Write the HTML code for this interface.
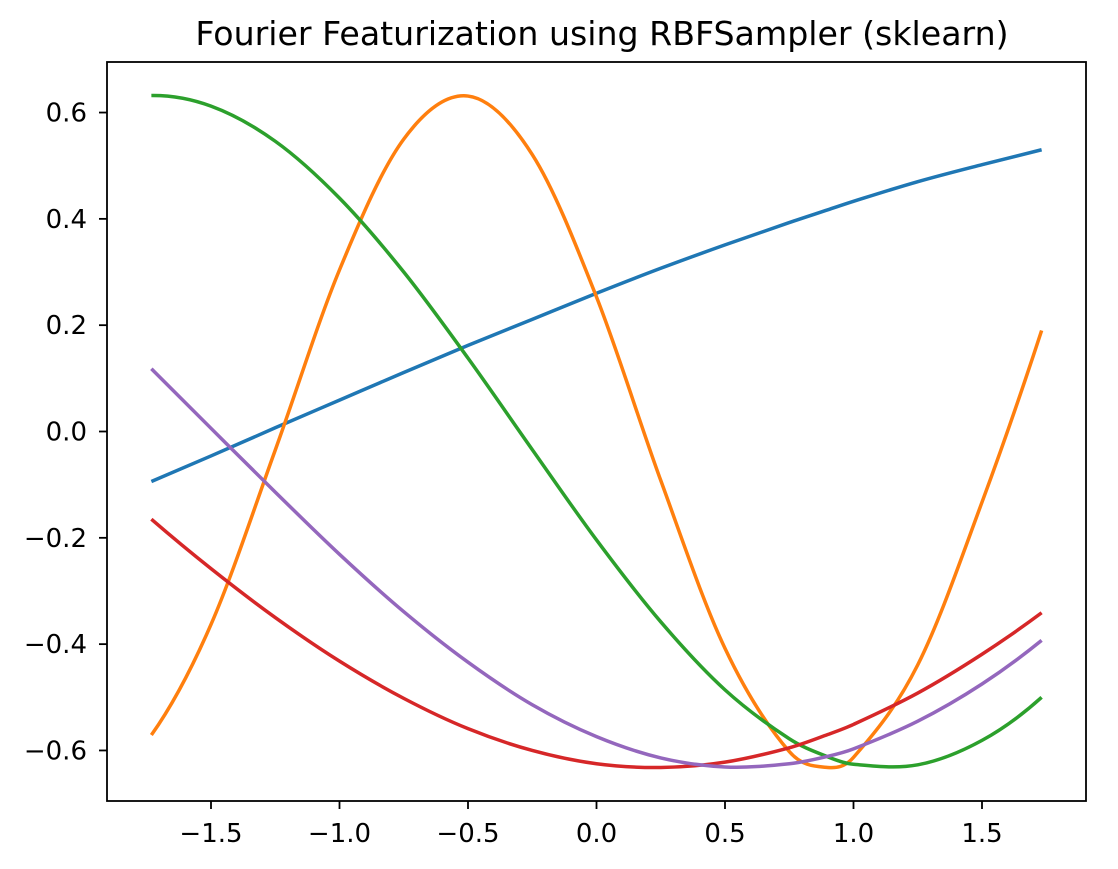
<!DOCTYPE html>
<html><head><meta charset="utf-8"><style>
body{margin:0;background:#fff;}
svg{display:block;font-family:"DejaVu Sans","Liberation Sans",sans-serif;}
</style></head><body>
<svg id="chart" width="1118" height="869">
<rect width="1118" height="869" fill="#fff"/>
<text x="602" y="45" text-anchor="middle" font-size="33.2" fill="#000">Fourier Featurization using RBFSampler (sklearn)</text>
<g id="lines"></g>
<g id="axes"></g>
<rect x="107" y="62" width="979" height="739" fill="none" stroke="#000" stroke-width="1.8"/>
</svg>
<script>
const xs = [-1.732,-1.5,-1.25,-1,-0.75,-0.5,-0.25,0,0.25,0.5,0.75,0.9,1,1.25,1.5,1.732];
const blue   = [-0.094,-0.046,0.007,0.059,0.111,0.162,0.211,0.260,0.307,0.351,0.393,0.417,0.433,0.470,0.502,0.530];
const orange = [-0.571,-0.363,-0.035,0.304,0.550,0.631,0.521,0.253,-0.092,-0.408,-0.602,-0.632,-0.613,-0.439,-0.133,0.190];
const green  = [0.632,0.612,0.546,0.439,0.300,0.138,-0.034,-0.204,-0.358,-0.486,-0.578,-0.612,-0.626,-0.627,-0.581,-0.500];
const red    = [-0.165,-0.258,-0.350,-0.432,-0.502,-0.559,-0.600,-0.625,-0.632,-0.622,-0.595,-0.570,-0.551,-0.492,-0.419,-0.341];
const purple = [0.118,0.006,-0.114,-0.231,-0.339,-0.434,-0.514,-0.574,-0.614,-0.631,-0.625,-0.611,-0.597,-0.545,-0.475,-0.393];
const xTicks = [-1.5,-1.0,-0.5,0.0,0.5,1.0,1.5];
const yTicks = [-0.6,-0.4,-0.2,0.0,0.2,0.4,0.6];

const NS = "http://www.w3.org/2000/svg";
const X = v => 596.5 + v * 257;
const Y = v => 431.5 - v * 531.6;
function fmt(v, d){ const s = Math.abs(v).toFixed(d); return (v < -1e-9 ? "\u2212" : "") + s; }

const series = [
  ["blue-line", blue, "#1f77b4"],
  ["orange-line", orange, "#ff7f0e"],
  ["green-line", green, "#2ca02c"],
  ["red-line", red, "#d62728"],
  ["purple-line", purple, "#9467bd"]
];
function slope(ys, i){
  const n = xs.length;
  if (i === 0) {
    const s = (ys[1] - ys[0]) / (xs[1] - xs[0]);
    return 2 * s - slope(ys, 1);
  }
  if (i === n - 1) {
    const s = (ys[n-1] - ys[n-2]) / (xs[n-1] - xs[n-2]);
    return 2 * s - slope(ys, n - 2);
  }
  return (ys[i+1] - ys[i-1]) / (xs[i+1] - xs[i-1]);
}
const lg = document.getElementById("lines");
series.forEach(([name, ys, col]) => {
  let d = "M" + X(xs[0]) + "," + Y(ys[0]);
  for (let i = 0; i < xs.length - 1; i++) {
    const h = xs[i+1] - xs[i];
    const m0 = slope(ys, i), m1 = slope(ys, i + 1);
    const c1x = xs[i] + h / 3, c1y = ys[i] + m0 * h / 3;
    const c2x = xs[i+1] - h / 3, c2y = ys[i+1] - m1 * h / 3;
    d += " C" + X(c1x) + "," + Y(c1y) + " " + X(c2x) + "," + Y(c2y) + " " + X(xs[i+1]) + "," + Y(ys[i+1]);
  }
  const p = document.createElementNS(NS, "path");
  p.setAttribute("d", d);
  p.setAttribute("fill", "none");
  p.setAttribute("stroke", col);
  p.setAttribute("stroke-width", "3.5");
  
  
  lg.appendChild(p);
});

const ax = document.getElementById("axes");
xTicks.forEach(t => {
  const l = document.createElementNS(NS, "line");
  l.setAttribute("x1", X(t)); l.setAttribute("x2", X(t));
  l.setAttribute("y1", 801); l.setAttribute("y2", 809);
  l.setAttribute("stroke", "#000"); l.setAttribute("stroke-width", "1.8");
  
  
  ax.appendChild(l);
  const tx = document.createElementNS(NS, "text");
  tx.setAttribute("x", X(t)); tx.setAttribute("y", 842);
  tx.setAttribute("text-anchor", "middle"); tx.setAttribute("font-size", "26");
  tx.textContent = fmt(t, 1);
  
  
  ax.appendChild(tx);
});
yTicks.forEach(t => {
  const l = document.createElementNS(NS, "line");
  l.setAttribute("x1", 99); l.setAttribute("x2", 107);
  l.setAttribute("y1", Y(t)); l.setAttribute("y2", Y(t));
  l.setAttribute("stroke", "#000"); l.setAttribute("stroke-width", "1.8");
  
  
  ax.appendChild(l);
  const tx = document.createElementNS(NS, "text");
  tx.setAttribute("x", 87); tx.setAttribute("y", Y(t) + 9);
  tx.setAttribute("text-anchor", "end"); tx.setAttribute("font-size", "26");
  tx.textContent = fmt(t, 1);
  
  
  ax.appendChild(tx);
});
</script>
</body></html>
